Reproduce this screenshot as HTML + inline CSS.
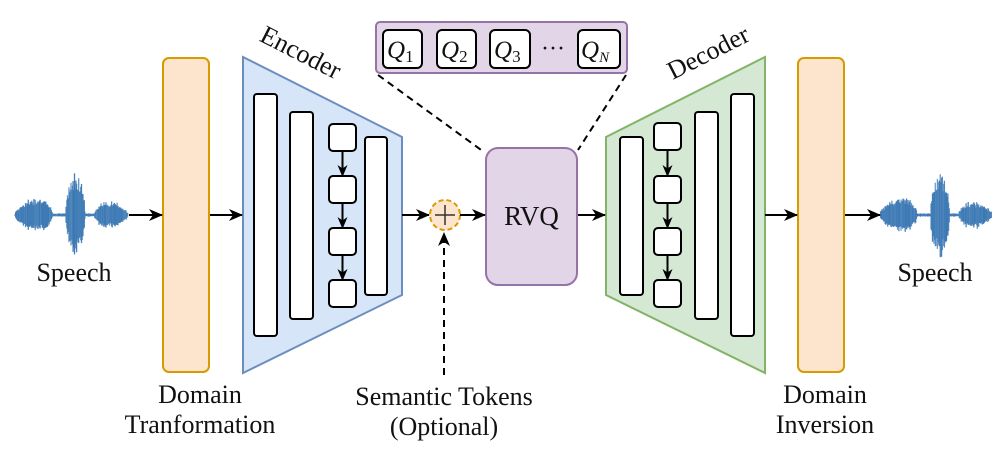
<!DOCTYPE html>
<html><head><meta charset="utf-8"><style>
html,body{margin:0;padding:0;background:#fff;}
svg{display:block;}
text{font-family:"Liberation Serif",serif;fill:#111;}
</style></head><body>
<svg id="s" width="1004" height="464" viewBox="0 0 1004 464" xmlns="http://www.w3.org/2000/svg">
<defs>
<marker id="a" markerWidth="14" markerHeight="14" refX="13" refY="7" orient="auto" markerUnits="userSpaceOnUse"><path d="M0,1 L14,7 L0,13 L4,7 Z" fill="#000"/></marker>
<marker id="b" markerWidth="12" markerHeight="12" refX="11" refY="6" orient="auto" markerUnits="userSpaceOnUse"><path d="M0,1 L12,6 L0,11 L3.5,6 Z" fill="#000"/></marker>
</defs>
<g id="w1" stroke="#3b78b4" stroke-width="1.3"></g>
<g id="w2" stroke="#3b78b4" stroke-width="1.3"></g>
<!-- domain boxes -->
<rect x="163" y="58" width="46" height="314" rx="6" fill="#fde4cc" stroke="#d79b00" stroke-width="2"/>
<rect x="798" y="58" width="46" height="314" rx="6" fill="#fde4cc" stroke="#d79b00" stroke-width="2"/>
<!-- encoder -->
<polygon points="243,57 402,137 402,295 243,373" fill="#d6e5f7" stroke="#6c8ebf" stroke-width="2"/>
<g fill="#fff" stroke="#000" stroke-width="2">
<rect x="254" y="94" width="23" height="242" rx="3"/>
<rect x="290" y="112" width="23" height="207" rx="3"/>
<rect x="365" y="137" width="22" height="158" rx="3"/>
<rect x="329" y="124" width="27" height="27" rx="4"/>
<rect x="329" y="176" width="27" height="27" rx="4"/>
<rect x="329" y="228" width="27" height="27" rx="4"/>
<rect x="329" y="280" width="27" height="27" rx="4"/>
</g>
<g stroke="#000" stroke-width="2" marker-end="url(#b)">
<line x1="342.5" y1="151" x2="342.5" y2="176"/>
<line x1="342.5" y1="203" x2="342.5" y2="228"/>
<line x1="342.5" y1="255" x2="342.5" y2="280"/>
</g>
<!-- decoder -->
<polygon points="606,137 765,57 765,373 606,295" fill="#d5e8d4" stroke="#82b366" stroke-width="2"/>
<g fill="#fff" stroke="#000" stroke-width="2">
<rect x="620" y="137" width="23" height="158" rx="3"/>
<rect x="695" y="112" width="23" height="207" rx="3"/>
<rect x="731" y="94" width="23" height="242" rx="3"/>
<rect x="654" y="123" width="27" height="27" rx="4"/>
<rect x="654" y="176" width="27" height="27" rx="4"/>
<rect x="654" y="228" width="27" height="27" rx="4"/>
<rect x="654" y="280" width="27" height="27" rx="4"/>
</g>
<g stroke="#000" stroke-width="2" marker-end="url(#b)">
<line x1="667.5" y1="150" x2="667.5" y2="176"/>
<line x1="667.5" y1="203" x2="667.5" y2="228"/>
<line x1="667.5" y1="255" x2="667.5" y2="280"/>
</g>
<!-- RVQ -->
<rect x="486" y="148" width="91" height="137" rx="12" fill="#e1d5e7" stroke="#9673a6" stroke-width="2"/>
<text x="531.5" y="225" font-size="27" text-anchor="middle">RVQ</text>
<!-- Q box -->
<rect x="376" y="22" width="251" height="51" rx="4" fill="#e1d5e7" stroke="#9673a6" stroke-width="2"/>
<g fill="#fff" stroke="#000" stroke-width="2">
<rect x="383" y="30" width="39" height="38" rx="5"/>
<rect x="437" y="30" width="39" height="38" rx="5"/>
<rect x="490" y="30" width="40" height="38" rx="5"/>
<rect x="578" y="30" width="42" height="38" rx="5"/>
</g>
<g font-size="25" font-style="italic">
<text x="387" y="58">Q<tspan font-size="17" font-style="normal" dy="4">1</tspan></text>
<text x="441" y="58">Q<tspan font-size="17" font-style="normal" dy="4">2</tspan></text>
<text x="494" y="58">Q<tspan font-size="17" font-style="normal" dy="4">3</tspan></text>
<text x="581" y="58">Q<tspan font-size="15" dy="4">N</tspan></text>
</g>
<text x="553" y="56" font-size="24" text-anchor="middle">···</text>
<g stroke="#000" stroke-width="2" stroke-dasharray="7,5">
<line x1="378" y1="75" x2="484" y2="152"/>
<line x1="626" y1="75" x2="578" y2="150"/>
<line x1="444" y1="375" x2="444" y2="233" marker-end="url(#a)"/>
</g>
<!-- plus circle -->
<circle cx="445" cy="215" r="15" fill="#fde4cc" stroke="#d79b00" stroke-width="2" stroke-dasharray="5,3"/>
<line x1="435" y1="215" x2="455" y2="215" stroke="#333" stroke-width="1.5"/>
<line x1="445" y1="205" x2="445" y2="225" stroke="#333" stroke-width="1.5"/>
<!-- arrows -->
<g stroke="#000" stroke-width="2" marker-end="url(#a)">
<line x1="129" y1="215" x2="162" y2="215"/>
<line x1="210" y1="215" x2="242" y2="215"/>
<line x1="402" y1="215" x2="429" y2="215"/>
<line x1="460" y1="215" x2="485" y2="215"/>
<line x1="578" y1="215" x2="605" y2="215"/>
<line x1="765" y1="215" x2="797" y2="215"/>
<line x1="845" y1="215" x2="880" y2="215"/>
</g>
<!-- labels -->
<g font-size="26" text-anchor="middle">
<text x="74" y="281">Speech</text>
<text x="935" y="281">Speech</text>
<text x="200" y="403">Domain</text>
<text x="200" y="433">Tranformation</text>
<text x="444" y="405">Semantic Tokens</text>
<text x="444" y="435">(Optional)</text>
<text x="825" y="403">Domain</text>
<text x="825" y="433">Inversion</text>
<text x="297" y="60" transform="rotate(27 297 60)">Encoder</text>
<text x="712" y="60" transform="rotate(-27 712 60)">Decoder</text>
</g>
</svg>
<script>
(function(){
var ns="http://www.w3.org/2000/svg";
var seed=7;function r(){seed=(seed*9301+49297)%233280;return seed/233280;}
function env(t){
 var a=1;
 if(t<0.33){var u=t/0.33;a+=15*Math.pow(Math.sin(Math.PI*u),0.5)*(0.7+0.5*u);}
 else if(t<0.45){a+=0.5;}
 else if(t<0.62){var u=(t-0.45)/0.17;a+=38*Math.pow(Math.sin(Math.PI*u),0.5);}
 else if(t<0.7){a+=0.5;}
 else {var u=(t-0.7)/0.3;a+=13*Math.pow(Math.sin(Math.PI*u),0.6)*(1-0.3*u);}
 return a;}
function draw(id,x0,x1,cy){
 var g=document.getElementById(id);
 for(var x=x0;x<=x1;x+=0.7){
  var t=(x-x0)/(x1-x0);var a=env(t)*(0.75+0.35*r());
  var l=document.createElementNS(ns,"line");
  l.setAttribute("x1",x);l.setAttribute("x2",x);
  l.setAttribute("y1",cy-a*(0.8+0.3*r()));l.setAttribute("y2",cy+a*(0.8+0.3*r()));
  l.setAttribute("opacity",0.7+0.3*r());
  g.appendChild(l);}
}
draw("w1",15,128,215);draw("w2",880,992,215);
})();
</script>
</body></html>
